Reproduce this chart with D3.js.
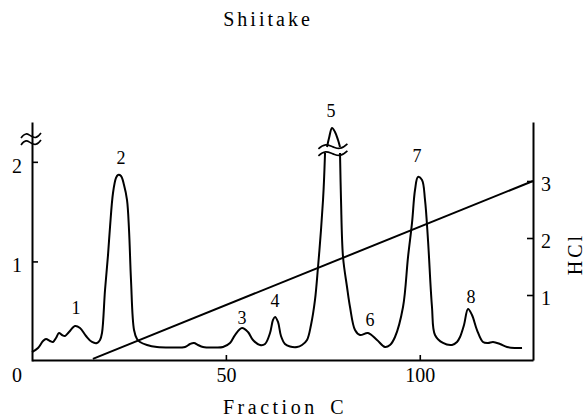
<!DOCTYPE html>
<html><head><meta charset="utf-8">
<script src="https://cdn.jsdelivr.net/npm/d3@7"></script>
<style>
html,body{margin:0;padding:0;background:#fff;}
svg{display:block;}
text{font-family:"Liberation Serif","DejaVu Serif","Times New Roman",serif;fill:#000;}
</style></head>
<body>
<svg id="chart" width="587" height="419"></svg>
<script>
// ---- data ----
const title = "Shiitake";
const xLabel = "Fraction C";
const hclLabel = "HCl";
// elution profile (absorbance); null marks the axis break on peak 5
const fraction = [0,1.55,2.84,3.61,4.64,5.42,6.19,6.96,7.74,8.51,9.54,11.09,12.38,13.93,15.47,16.76,17.54,18.05,18.83,19.6,20.12,20.89,21.66,22.18,22.95,23.73,24.5,25.02,25.53,26.31,27.08,27.85,29.66,32.24,35.59,39.46,40.75,41.78,42.81,44.1,47.19,49.26,51.06,52.35,54.16,55.7,56.99,58.8,60.09,61.38,62.15,62.67,63.44,64.21,65.24,66.53,68.34,69.63,70.92,71.95,72.98,73.76,74.53,75.05,75.31,75.57,75.8,76.08,76.6,77.37,78.14,78.92,79.43,79.43,79.43,79.69,80.21,81.24,82.01,83.3,84.59,86.65,88.97,91.03,92.32,93.61,95.68,96.97,98.0,98.77,99.54,100.58,101.35,102.12,103.15,103.93,105.99,108.31,109.6,110.38,111.41,112.44,113.47,114.76,116.31,117.6,118.89,120.69,122.5,124.56,126.37];
const absorbance = [0.09,0.131,0.201,0.221,0.201,0.191,0.231,0.281,0.261,0.251,0.291,0.351,0.331,0.251,0.191,0.181,0.211,0.281,0.713,1.064,1.346,1.687,1.838,1.868,1.858,1.767,1.617,1.316,0.813,0.311,0.221,0.191,0.161,0.141,0.136,0.141,0.171,0.181,0.161,0.141,0.136,0.141,0.181,0.261,0.331,0.291,0.211,0.161,0.171,0.281,0.412,0.442,0.392,0.251,0.171,0.146,0.141,0.161,0.211,0.362,0.613,0.944,1.316,1.617,1.818,2.089,null,2.149,2.239,2.34,2.3,2.219,2.149,null,2.089,1.617,1.044,0.743,0.542,0.311,0.261,0.281,0.211,0.141,0.161,0.241,0.542,1.044,1.386,1.717,1.848,1.818,1.617,1.215,0.542,0.261,0.181,0.161,0.191,0.241,0.362,0.522,0.462,0.311,0.191,0.181,0.191,0.171,0.141,0.131,0.131];
// HCl gradient
const hclFraction = [15.7, 129.2];
const hclConc = [-0.12, 3.0];
// peak labels
const peakNames = ["1","2","3","4","5","6","7","8"];
const peakFrac = [11.35,22.95,54.16,62.67,77.11,87.17,99.29,113.21];
const peakAbs = [0.472,1.978,0.372,0.542,2.45,0.351,1.998,0.582];
// ticks
const xTicks = [50,100];
const yTicks = [1,2];
const hclTicks = [1,2,3];
const originLabel = "0";

// ---- scales ----
const svg = d3.select("#chart");
const x = d3.scaleLinear().domain([0,129.2]).range([32,533]);
const y = d3.scaleLinear().domain([0,2.4]).range([361,122]);
const yh = d3.scaleLinear().domain([-0.14,4.035]).range([360,122]);

const FS = 20;
const FF = '"Liberation Serif","DejaVu Serif",serif';
const fmt = d3.format("d");

// title
svg.append("text").attr("x",268).attr("y",26).attr("text-anchor","middle")
  .attr("font-size",FS).attr("letter-spacing","3px").text(title);

// axes
const gx = svg.append("g").attr("transform","translate(0,360)")
  .call(d3.axisBottom(x).tickValues(xTicks).tickFormat(fmt).tickSizeInner(-5).tickSizeOuter(0).tickPadding(8));
const gy = svg.append("g").attr("transform","translate(32,0)")
  .call(d3.axisLeft(y).tickValues(yTicks).tickFormat(fmt).tickSizeInner(-6).tickSizeOuter(0).tickPadding(10));
const gh = svg.append("g").attr("transform","translate(533,0)")
  .call(d3.axisRight(yh).tickValues(hclTicks).tickFormat(fmt).tickSizeInner(-6).tickSizeOuter(0).tickPadding(8));
[gx,gy,gh].forEach(g=>{
  g.attr("font-family",FF).attr("font-size",FS);
  g.selectAll("path.domain").attr("stroke","#000").attr("stroke-width",2);
  g.selectAll(".tick line").attr("stroke","#000").attr("stroke-width",1.6);
  g.selectAll("text").attr("font-family",FF).attr("font-size",FS).attr("fill","#000");
});
gy.selectAll("text").attr("dy","0.52em");
gh.selectAll("text").attr("dy","0.45em");
gx.selectAll("text").attr("dy","0.71em");

// origin label
svg.append("text").attr("x",17).attr("y",382).attr("text-anchor","middle").attr("font-size",FS).text(originLabel);

// axis labels
svg.append("text").attr("x",285).attr("y",414).attr("text-anchor","middle")
  .attr("font-size",FS).attr("letter-spacing","3.5px").attr("word-spacing","4px").text(xLabel);
svg.append("text").attr("transform","translate(582,254) rotate(-90)").attr("text-anchor","middle")
  .attr("font-size",FS).attr("letter-spacing","3px").text(hclLabel);

// break marks
function wave(cx, cy, w){
  const p = d3.path();
  p.moveTo(cx - w/2, cy + 2);
  p.bezierCurveTo(cx - w/4, cy - 5, cx - w/8, cy - 1, cx, cy);
  p.bezierCurveTo(cx + w/8, cy + 1, cx + w/4, cy + 4, cx + w/2, cy - 3);
  return p.toString();
}
[2.26,2.19].forEach(v=>{
  svg.append("path").attr("d",wave(x(0)-1, y(v), 20)).attr("fill","none").attr("stroke","#000").attr("stroke-width",1.6);
});
[2.15,2.08].forEach(v=>{
  svg.append("path").attr("d",wave(x(77.6), y(v), 29)).attr("fill","none").attr("stroke","#000").attr("stroke-width",1.6);
});

// HCl line
const hclData = hclFraction.map((f,i)=>({f, c: hclConc[i]}));
svg.append("path").datum(hclData)
  .attr("d", d3.line().x(d=>x(d.f)).y(d=>yh(d.c)))
  .attr("fill","none").attr("stroke","#000").attr("stroke-width",2);

// elution curve
const curveData = fraction.map((f,i)=>({f, a: absorbance[i]}));
svg.append("path").datum(curveData)
  .attr("d", d3.line().defined(d=>d.a!==null).x(d=>x(d.f)).y(d=>y(d.a)).curve(d3.curveCatmullRom.alpha(0.5)))
  .attr("fill","none").attr("stroke","#000").attr("stroke-width",2).attr("stroke-linejoin","round");

// peak labels
svg.selectAll("text.peak").data(peakNames).enter().append("text").attr("class","peak")
  .attr("x",(d,i)=>x(peakFrac[i])).attr("y",(d,i)=>y(peakAbs[i]))
  .attr("text-anchor","middle").attr("font-size",18).text(d=>d);
</script>
</body></html>
